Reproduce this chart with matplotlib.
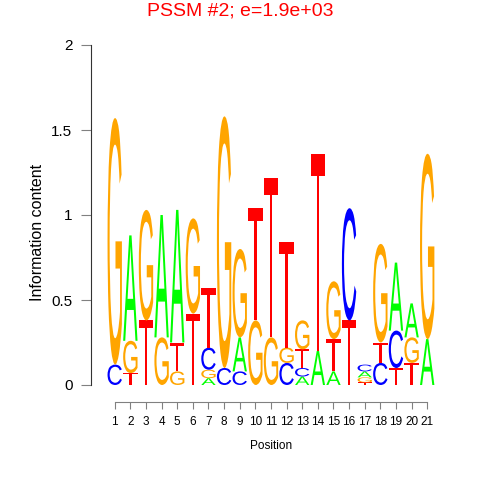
import matplotlib
matplotlib.use('Agg')
import matplotlib.pyplot as plt
from matplotlib.textpath import TextPath
from matplotlib.patches import PathPatch
from matplotlib.font_manager import FontProperties
from matplotlib.transforms import Affine2D

plt.rcParams['font.family'] = ['Liberation Sans', 'DejaVu Sans']

# Logo data: information content per letter at each position
positions = list(range(1, 22))
heights_A = [0, 0.62, 0, 0.72, 0.78, 0, 0.04, 0, 0.20, 0, 0, 0, 0.05, 0.20, 0.08, 0, 0.035, 0, 0.40, 0.20, 0.27]
heights_C = [0.12, 0, 0, 0, 0, 0, 0.13, 0.10, 0.08, 0, 0, 0.13, 0.05, 0, 0, 0.66, 0.04, 0.13, 0.22, 0, 0]
heights_G = [1.45, 0.19, 0.65, 0.28, 0.08, 0.56, 0.05, 1.48, 0.52, 0.38, 0.28, 0.09, 0.17, 0, 0.34, 0, 0.03, 0.58, 0, 0.15, 1.09]
heights_T = [0, 0.07, 0.38, 0, 0.17, 0.42, 0.35, 0, 0, 0.66, 0.94, 0.62, 0.11, 1.16, 0.19, 0.38, 0.015, 0.12, 0.10, 0.13, 0]
# stacking order, bottom to top
stack_order = ['CG', 'TGA', 'TG', 'GA', 'GTA', 'TG', 'AGCT', 'CG', 'CAG', 'GT', 'GT',
               'CGT', 'ACTG', 'AT', 'ATG', 'TC', 'TGAC', 'CTG', 'TCA', 'TGA', 'AG']
y_ticks = [0, 0.5, 1, 1.5, 2]
y_labels = ['0', '0.5', '1', '1.5', '2']

heights = {'A': heights_A, 'C': heights_C, 'G': heights_G, 'T': heights_T}
colors = {'A': '#00FF00', 'C': '#0000FF', 'G': '#FFA500', 'T': '#FF0000'}
glyph_font = FontProperties(family='Liberation Sans')


def draw_letter(ax, letter, x, y, w, h, color):
    tp = TextPath((0, 0), letter, size=1, prop=glyph_font)
    bb = tp.get_extents()
    t = Affine2D().translate(-bb.x0, -bb.y0).scale(w / bb.width, h / bb.height).translate(x, y)
    ax.add_patch(PathPatch(t.transform_path(tp), facecolor=color, edgecolor='none'))


fig = plt.figure(figsize=(4.8, 4.8), dpi=100)
ax = fig.add_axes([0.189, 0.1625, 0.751, 0.74375])

# stack letters
width = 0.92
for i, pos in enumerate(positions):
    base = 0.0
    for letter in stack_order[i]:
        h = heights[letter][i]
        if h > 0:
            draw_letter(ax, letter, pos - width / 2, base, width, h, colors[letter])
            base += h

ax.set_xlim(-0.536, 22.536)
ax.set_ylim(-0.1, 2)

for s in ['top', 'right']:
    ax.spines[s].set_visible(False)
ax.spines['left'].set_bounds(0, 2)
ax.spines['left'].set_color('#333333')
ax.spines['bottom'].set_bounds(1, 21)
ax.spines['bottom'].set_color('#808080')

ax.set_yticks(y_ticks)
ax.set_yticklabels(y_labels)
ax.set_xticks(positions)
ax.set_xticklabels([str(p) for p in positions])
ax.tick_params(axis='y', length=7.2, pad=6, labelsize=11, color='#808080')
ax.tick_params(axis='x', length=5, pad=5, labelsize=8.5, color='#808080')

fig.text(38 / 480, 1 - 232 / 480, 'Information content',
         rotation=90, ha='center', va='center', fontsize=11.5)
fig.text(271 / 480, 1 - 446 / 480, 'Position', ha='center', va='center', fontsize=8.5)
fig.text(0.5, 1 - 15.5 / 480, 'PSSM #2; e=1.9e+03', color='#FF0000', ha='center',
         va='baseline', fontsize=14)

fig.savefig('out.png', dpi=100)
